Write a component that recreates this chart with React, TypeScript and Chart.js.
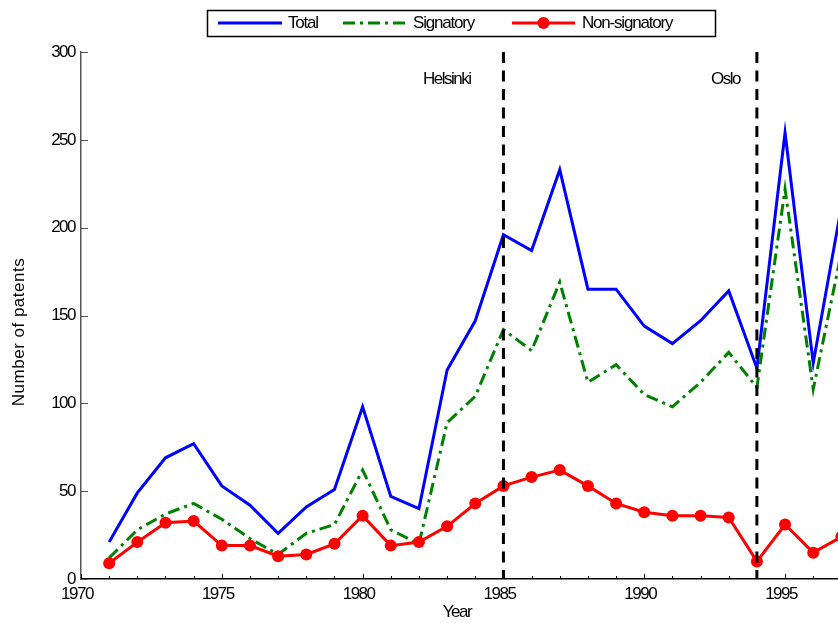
import React, { useEffect, useRef } from "react";
import { Chart, registerables } from "chart.js";

Chart.register(...registerables);

const years = [1971, 1972, 1973, 1974, 1975, 1976, 1977, 1978, 1979, 1980, 1981, 1982, 1983, 1984, 1985, 1986, 1987, 1988, 1989, 1990, 1991, 1992, 1993, 1994, 1995, 1996, 1997];
const total = [21, 49, 69, 77, 53, 42, 26, 41, 51, 98, 47, 40, 119, 147, 196, 187, 233, 165, 165, 144, 134, 147, 164, 120, 254, 123, 212];
const signatory = [12, 28, 37, 43, 34, 23, 14, 26, 31, 62, 28, 20, 89, 104, 142, 130, 169, 112, 122, 105, 98, 112, 129, 109, 222, 108, 186];
const nonSignatory = [9, 21, 32, 33, 19, 19, 13, 14, 20, 36, 19, 21, 30, 43, 53, 58, 62, 53, 43, 38, 36, 36, 35, 10, 31, 15, 24];

const xTickYears = [1970, 1975, 1980, 1985, 1990, 1995];
const xMinorYears = [1970, 1971, 1972, 1973, 1974, 1975, 1976, 1977, 1978, 1979, 1980, 1981, 1982, 1983, 1984, 1985, 1986, 1987, 1988, 1989, 1990, 1991, 1992, 1993, 1994, 1995, 1996];
const yTickValues = [0, 50, 100, 150, 200, 250, 300];

const eventYears = [1985, 1994];
const eventLabels = ["Helsinki", "Oslo"];

const FONT = "'Liberation Sans', Arial, Helvetica, sans-serif";

const customPlugin = {
  id: "customPlugin",
  beforeDraw(chart: any) {
    chart.ctx.letterSpacing = "-1.5px";
  },
  afterDatasetsDraw(chart: any) {
    const { ctx, chartArea, scales } = chart;
    const x = scales.x;
    ctx.save();
    ctx.setLineDash([11, 7.5]);
    ctx.lineWidth = 3;
    ctx.strokeStyle = "#000";
    eventYears.forEach((yr) => {
      const px = x.getPixelForValue(yr);
      ctx.beginPath();
      ctx.moveTo(px, chartArea.top);
      ctx.lineTo(px, chartArea.bottom);
      ctx.stroke();
    });
    ctx.restore();
  },
  afterDraw(chart: any) {
    const { ctx, chartArea, scales } = chart;
    const x = scales.x;
    const y = scales.y;
    ctx.save();
    ctx.letterSpacing = "-1.5px";
    // x ticks (inside)
    ctx.strokeStyle = "#000";
    ctx.lineWidth = 1;
    xMinorYears.forEach((yr) => {
      const px = Math.round(x.getPixelForValue(yr)) + 0.5;
      const len = xTickYears.includes(yr) ? 5 : 3;
      ctx.beginPath();
      ctx.moveTo(px, chartArea.bottom);
      ctx.lineTo(px, chartArea.bottom - len);
      ctx.stroke();
    });
    // y ticks (inside)
    ctx.strokeStyle = "#555";
    yTickValues.forEach((v) => {
      const py = Math.round(y.getPixelForValue(v)) + 0.5;
      ctx.beginPath();
      ctx.moveTo(chartArea.left, py);
      ctx.lineTo(chartArea.left + 7, py);
      ctx.stroke();
    });
    // event labels
    ctx.fillStyle = "#000";
    ctx.font = `17px ${FONT}`;
    ctx.textBaseline = "middle";
    ctx.textAlign = "right";
    const gaps = [33, 17];
    eventYears.forEach((yr, i) => {
      const px = x.getPixelForValue(yr);
      ctx.fillText(eventLabels[i], px - gaps[i], 79);
    });
    // x title
    ctx.textAlign = "center";
    ctx.fillText("Year", 457, 612);
    // y title
    ctx.save();
    ctx.letterSpacing = "0.5px";
    ctx.translate(19, 332);
    ctx.rotate(-Math.PI / 2);
    ctx.textAlign = "center";
    ctx.font = `17px ${FONT}`;
    ctx.fillText("Number of patents", 0, 0);
    ctx.restore();
    // legend
    ctx.setLineDash([]);
    ctx.lineWidth = 1.5;
    ctx.strokeStyle = "#000";
    ctx.strokeRect(207.5, 10.5, 508, 26);
    const ly = 23;
    const items = [
      { ds: chart.data.datasets.find((d: any) => d.label === "Total"), x0: 218, x1: 282, tx: 288 },
      { ds: chart.data.datasets.find((d: any) => d.label === "Signatory"), x0: 343, x1: 407, tx: 413 },
      { ds: chart.data.datasets.find((d: any) => d.label === "Non-signatory"), x0: 512, x1: 575, tx: 582 },
    ];
    ctx.letterSpacing = "-1.2px";
    items.forEach((it) => {
      const ds: any = it.ds;
      ctx.save();
      ctx.strokeStyle = ds.borderColor;
      ctx.lineWidth = 3;
      ctx.setLineDash(ds.borderDash || []);
      ctx.beginPath();
      ctx.moveTo(it.x0, ly);
      ctx.lineTo(it.x1, ly);
      ctx.stroke();
      if (ds.pointRadius > 0) {
        ctx.fillStyle = ds.pointBackgroundColor;
        ctx.beginPath();
        ctx.arc((it.x0 + it.x1) / 2, ly, ds.pointRadius, 0, Math.PI * 2);
        ctx.fill();
      }
      ctx.restore();
      ctx.fillStyle = "#000";
      ctx.textAlign = "left";
      ctx.textBaseline = "middle";
      ctx.font = `17px ${FONT}`;
      ctx.fillText(ds.label, it.tx, ly);
    });
    ctx.restore();
  },
};

export default function App() {
  const canvasRef = useRef<HTMLCanvasElement | null>(null);

  useEffect(() => {
    if (!canvasRef.current) return;
    const toPts = (arr: number[]) => years.map((yr, i) => ({ x: yr, y: arr[i] }));
    const chart = new Chart(canvasRef.current, {
      type: "line",
      data: {
        datasets: [
          {
            label: "Total",
            data: toPts(total),
            borderColor: "#0000ff",
            borderWidth: 3,
            pointRadius: 0,
            tension: 0,
            order: 2,
          },
          {
            label: "Signatory",
            data: toPts(signatory),
            borderColor: "#008000",
            borderWidth: 3,
            borderDash: [12, 5, 3, 5],
            pointRadius: 0,
            tension: 0,
            order: 1,
          },
          {
            label: "Non-signatory",
            data: toPts(nonSignatory),
            borderColor: "#ff0000",
            borderWidth: 3,
            pointRadius: 6,
            pointBackgroundColor: "#ff0000",
            pointBorderWidth: 0,
            pointHoverRadius: 6,
            tension: 0,
            order: 0,
          },
        ] as any,
      },
      options: {
        animation: false,
        responsive: true,
        maintainAspectRatio: false,
        layout: { autoPadding: false, padding: { top: 52, left: 0, right: 0, bottom: 0 } },
        plugins: { legend: { display: false }, tooltip: { enabled: false } },
        events: [],
        scales: {
          x: {
            type: "linear",
            min: 1970,
            max: 1996.88,
            grid: { display: false, drawTicks: false },
            border: { display: true, color: "#000", width: 1.5 },
            ticks: {
              autoSkip: false,
              includeBounds: false,
              color: "#000",
              padding: 5,
              labelOffset: -4,
              maxRotation: 0,
              font: { family: FONT, size: 17 },
              callback: (v: any) => String(v),
            },
            afterBuildTicks: (scale: any) => {
              scale.ticks = xTickYears.map((v) => ({ value: v }));
            },
            afterFit: (scale: any) => {
              scale.height = 44;
            },
          },
          y: {
            type: "linear",
            min: 0,
            max: 300,
            grid: { display: false, drawTicks: false },
            border: { display: true, color: "#555", width: 1.5 },
            ticks: {
              color: "#000",
              padding: 6,
              font: { family: FONT, size: 17 },
            },
            afterBuildTicks: (scale: any) => {
              scale.ticks = yTickValues.map((v) => ({ value: v }));
            },
            afterFit: (scale: any) => {
              scale.width = 81;
            },
          },
        },
      } as any,
      plugins: [customPlugin as any],
    });
    return () => chart.destroy();
  }, []);

  return (
    <div style={{ position: "fixed", left: 0, top: 0, width: 838, height: 623, background: "#fff" }}>
      <canvas ref={canvasRef} />
    </div>
  );
}
